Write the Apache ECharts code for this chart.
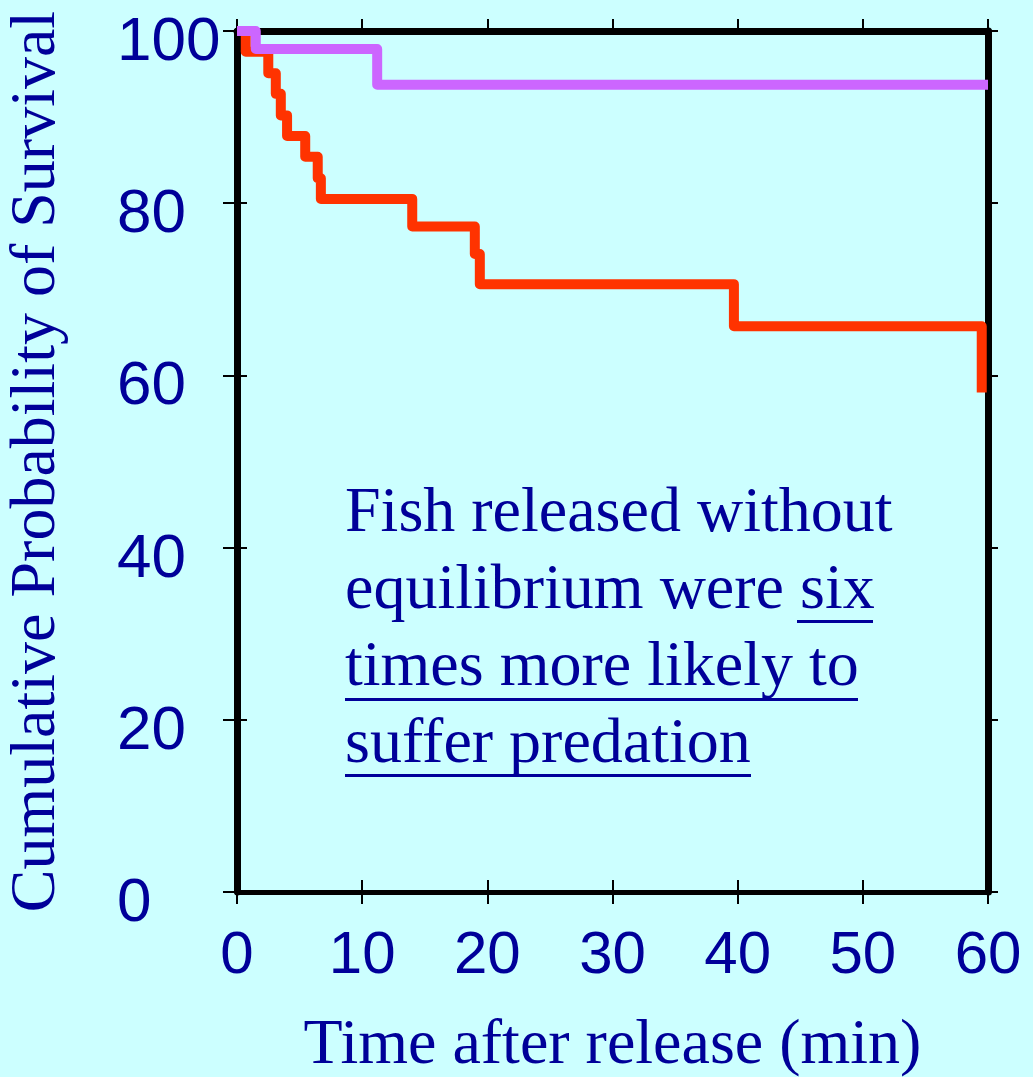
<!DOCTYPE html>
<html>
<head>
<meta charset="utf-8">
<script src="https://cdn.jsdelivr.net/npm/echarts@6/dist/echarts.min.js"></script>
<style>
html,body{margin:0;padding:0;background:#CCFFFF;}
#chart{width:1033px;height:1077px;}
</style>
</head>
<body>
<div id="chart"></div>
<script>
// Kaplan-Meier step data [time (min), survival %]
const withoutEquilibrium = [
  [0, 100], [0.7, 97.6], [2.5, 95.1], [3.1, 92.7], [3.5, 90.2], [4.0, 87.8],
  [5.45, 85.4], [6.45, 82.9], [6.7, 80.5], [14.0, 77.3], [19.0, 74.1],
  [19.4, 70.6], [39.7, 65.7], [59.5, 65.7], [59.5, 58.0]
];
const withEquilibrium = [
  [0, 100], [1.5, 97.9], [11.2, 93.75], [60, 93.75]
];
const xTicks = [0, 10, 20, 30, 40, 50, 60];
const yTicks = [0, 20, 40, 60, 80, 100];
const xTitle = 'Time after release (min)';
const yTitle = 'Cumulative Probability of Survival';
const noteLines = ['Fish released without', 'equilibrium were six', 'times more likely to', 'suffer predation'];

const NAVY = '#000099';
const chart = echarts.init(document.getElementById('chart'), null, {renderer: 'canvas'});

function xAx(opts) {
  return Object.assign({
    type: 'value', min: xTicks[0], max: xTicks[xTicks.length - 1], interval: 10,
    splitLine: {show: false}, axisLabel: {show: false},
    axisLine: {show: false}, axisTick: {show: true, length: 12, lineStyle: {color: '#000', width: 2}}
  }, opts);
}
function yAx(opts) {
  return Object.assign({
    type: 'value', min: yTicks[0], max: yTicks[yTicks.length - 1], interval: 20,
    splitLine: {show: false}, axisLabel: {show: false},
    axisLine: {show: false}, axisTick: {show: true, length: 11, lineStyle: {color: '#000', width: 2}}
  }, opts);
}

const option = {
  backgroundColor: '#CCFFFF',
  animation: false,
  grid: {left: 237, right: 45, top: 31, bottom: 185, containLabel: false, outerBoundsMode: 'none'},
  xAxis: [
    xAx({position: 'bottom', name: xTitle, nameLocation: 'middle', nameGap: 122,
      nameTextStyle: {fontFamily: 'Liberation Serif', fontSize: 64, color: NAVY},
      axisLine: {show: true, onZero: false, lineStyle: {color: '#000', width: 5}},
      axisLabel: {show: true, fontFamily: 'Liberation Sans', fontSize: 60, color: NAVY, margin: 34}}),
    xAx({position: 'bottom', axisTick: {show: true, inside: true, length: 12, lineStyle: {color: '#000', width: 2}}}),
    xAx({position: 'top', axisLine: {show: true, onZero: false, lineStyle: {color: '#000', width: 7}}}),
    xAx({position: 'top', axisTick: {show: true, inside: true, length: 12, lineStyle: {color: '#000', width: 2}}})
  ],
  yAxis: [
    yAx({position: 'left', name: yTitle, nameLocation: 'middle', nameGap: 168, nameRotate: 90,
      nameTextStyle: {fontFamily: 'Liberation Serif', fontSize: 64, color: NAVY},
      axisLine: {show: true, onZero: false, lineStyle: {color: '#000', width: 7}},
      axisTick: {show: true, length: 14, lineStyle: {color: '#000', width: 2}},
      axisLabel: {show: true, fontFamily: 'Liberation Sans', fontSize: 62, color: NAVY, margin: 120,
        align: 'left', verticalAlign: 'top', lineHeight: 24}}),
    yAx({position: 'left', axisTick: {show: true, inside: true, length: 10, lineStyle: {color: '#000', width: 2}}}),
    yAx({position: 'right', axisLine: {show: true, onZero: false, lineStyle: {color: '#000', width: 7}},
      axisTick: {show: true, length: 10, lineStyle: {color: '#000', width: 2}}}),
    yAx({position: 'right', axisTick: {show: true, inside: true, length: 10, lineStyle: {color: '#000', width: 2}}})
  ],
  series: [
    {type: 'line', name: 'Released without equilibrium', data: withoutEquilibrium, step: 'end',
      xAxisIndex: 0, yAxisIndex: 0, symbol: 'none', z: 3,
      lineStyle: {color: '#FF3300', width: 10, join: 'round', cap: 'butt'}},
    {type: 'line', name: 'Released with equilibrium', data: withEquilibrium, step: 'end',
      xAxisIndex: 0, yAxisIndex: 0, symbol: 'none', z: 4,
      lineStyle: {color: '#CC66FF', width: 10, join: 'round', cap: 'butt'}}
  ],
  graphic: [
    {type: 'text', left: 345, top: 476, z: 10,
      style: {text: noteLines.join('\n'), fontFamily: 'Liberation Serif', fontSize: 64,
        lineHeight: 77, fill: NAVY}},
    {type: 'rect', shape: {x: 797, y: 620, width: 76, height: 3}, style: {fill: NAVY}, z: 10},
    {type: 'rect', shape: {x: 345, y: 698, width: 513, height: 3}, style: {fill: NAVY}, z: 10},
    {type: 'rect', shape: {x: 345, y: 774, width: 406, height: 3}, style: {fill: NAVY}, z: 10}
  ]
};
chart.setOption(option);
</script>
</body>
</html>
